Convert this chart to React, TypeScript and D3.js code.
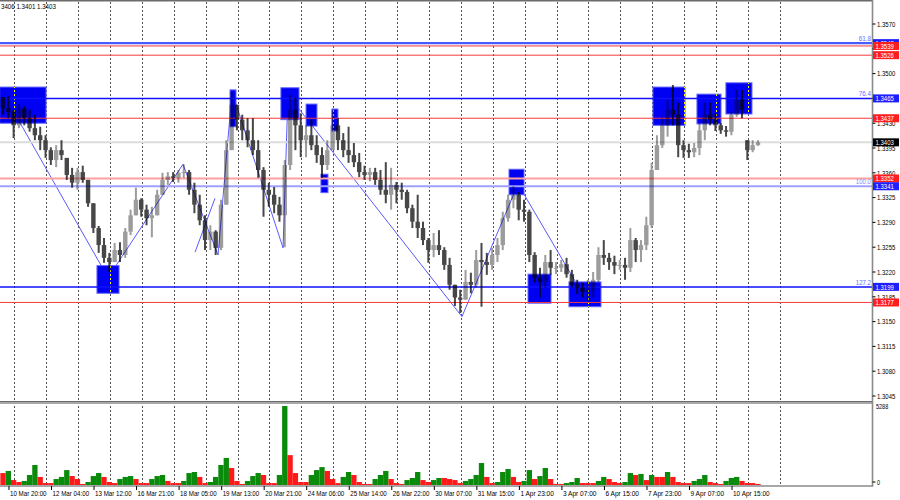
import React from 'react';
import * as d3 from 'd3';

// H1 chart squeezed into 4-bar groups (group g = bars 4g..4g+3)
const highs = [
  1.3467, 1.3468, 1.3449, 1.3457, 1.3454, 1.3449, 1.3442, 1.3425, 1.3413, 1.3396,
  1.3399, 1.3406, 1.3381, 1.3367, 1.3367, 1.3370, 1.3350, 1.3317, 1.3285, 1.3268,
  1.3247, 1.3261, 1.3262, 1.3282, 1.3308, 1.3339, 1.3324, 1.3315, 1.3312, 1.3336,
  1.3360, 1.3361, 1.3361, 1.3364, 1.3372, 1.3364, 1.3346, 1.3329, 1.3300, 1.3286,
  1.3279, 1.3322, 1.3406, 1.3474, 1.3456, 1.3442, 1.3437, 1.3437, 1.3406, 1.3368,
  1.3346, 1.3340, 1.3326, 1.3378, 1.3470, 1.3466, 1.3444, 1.3427, 1.3435, 1.3413,
  1.3396, 1.3406, 1.3449, 1.3437, 1.3416, 1.3425, 1.3402, 1.3388, 1.3370, 1.3367,
  1.3367, 1.3364, 1.3375, 1.3367, 1.3347, 1.3346, 1.3336, 1.3315, 1.3329, 1.3291,
  1.3268, 1.3275, 1.3279, 1.3255, 1.3240, 1.3202, 1.3195, 1.3223, 1.3219, 1.3251,
  1.3261, 1.3247, 1.3254, 1.3268, 1.3305, 1.3329, 1.3341, 1.3333, 1.3322, 1.3308,
  1.3248, 1.3226, 1.3244, 1.3251, 1.3234, 1.3237, 1.3240, 1.3223, 1.3209, 1.3205,
  1.3209, 1.3220, 1.3255, 1.3265, 1.3247, 1.3243, 1.3237, 1.3240, 1.3282, 1.3268,
  1.3265, 1.3298, 1.3374, 1.3413, 1.3437, 1.3463, 1.3484, 1.3459, 1.3406, 1.3401,
  1.3402, 1.3430, 1.3459, 1.3459, 1.3444, 1.3430, 1.3426, 1.3446, 1.3477, 1.3477,
  1.3406, 1.3406, 1.3406,
];
const lows = [
  1.3442, 1.3437, 1.3409, 1.3423, 1.3427, 1.3418, 1.3406, 1.3392, 1.3381, 1.3371,
  1.3368, 1.3378, 1.3350, 1.3339, 1.3336, 1.3346, 1.3312, 1.3275, 1.3247, 1.3233,
  1.3220, 1.3234, 1.3234, 1.3240, 1.3272, 1.3300, 1.3298, 1.3286, 1.3269, 1.3300,
  1.3329, 1.3343, 1.3347, 1.3346, 1.3353, 1.3329, 1.3303, 1.3286, 1.3251, 1.3251,
  1.3244, 1.3251, 1.3315, 1.3392, 1.3420, 1.3406, 1.3396, 1.3385, 1.3353, 1.3298,
  1.3312, 1.3303, 1.3291, 1.3255, 1.3364, 1.3392, 1.3382, 1.3382, 1.3392, 1.3374,
  1.3353, 1.3364, 1.3392, 1.3392, 1.3382, 1.3374, 1.3368, 1.3354, 1.3350, 1.3348,
  1.3343, 1.3329, 1.3317, 1.3308, 1.3317, 1.3322, 1.3303, 1.3282, 1.3268, 1.3258,
  1.3233, 1.3241, 1.3244, 1.3223, 1.3195, 1.3172, 1.3162, 1.3181, 1.3190, 1.3198,
  1.3171, 1.3216, 1.3223, 1.3234, 1.3251, 1.3291, 1.3310, 1.3293, 1.3291, 1.3234,
  1.3205, 1.3184, 1.3198, 1.3216, 1.3217, 1.3220, 1.3212, 1.3198, 1.3189, 1.3184,
  1.3179, 1.3184, 1.3206, 1.3230, 1.3223, 1.3217, 1.3223, 1.3209, 1.3220, 1.3234,
  1.3234, 1.3251, 1.3282, 1.3364, 1.3395, 1.3411, 1.3427, 1.3382, 1.3381, 1.3381,
  1.3382, 1.3385, 1.3406, 1.3427, 1.3419, 1.3415, 1.3411, 1.3413, 1.3439, 1.3437,
  1.3378, 1.3389, 1.3398,
];
const closes = [
  1.3451, 1.3446, 1.3427, 1.3451, 1.3437, 1.3423, 1.3413, 1.3406, 1.3392, 1.3378,
  1.3392, 1.3385, 1.3357, 1.3346, 1.3361, 1.3350, 1.3317, 1.3282, 1.3258, 1.3240,
  1.3234, 1.3251, 1.3244, 1.3277, 1.3300, 1.3322, 1.3308, 1.3296, 1.3300, 1.3329,
  1.3350, 1.3355, 1.3353, 1.3360, 1.3361, 1.3336, 1.3315, 1.3293, 1.3265, 1.3277,
  1.3254, 1.3315, 1.3392, 1.3456, 1.3435, 1.3420, 1.3406, 1.3392, 1.3364, 1.3336,
  1.3329, 1.3315, 1.3300, 1.3371, 1.3449, 1.3427, 1.3406, 1.3413, 1.3399, 1.3385,
  1.3371, 1.3392, 1.3427, 1.3406, 1.3392, 1.3385, 1.3375, 1.3361, 1.3357, 1.3361,
  1.3350, 1.3336, 1.3329, 1.3343, 1.3336, 1.3333, 1.3310, 1.3291, 1.3282, 1.3265,
  1.3251, 1.3258, 1.3251, 1.3230, 1.3202, 1.3184, 1.3181, 1.3206, 1.3202, 1.3237,
  1.3234, 1.3230, 1.3244, 1.3258, 1.3296, 1.3322, 1.3329, 1.3308, 1.3305, 1.3244,
  1.3212, 1.3206, 1.3234, 1.3226, 1.3226, 1.3231, 1.3217, 1.3202, 1.3198, 1.3192,
  1.3195, 1.3209, 1.3244, 1.3240, 1.3234, 1.3229, 1.3230, 1.3226, 1.3265, 1.3251,
  1.3258, 1.3286, 1.3364, 1.3399, 1.3427, 1.3449, 1.3442, 1.3399, 1.3392, 1.3389,
  1.3395, 1.3420, 1.3442, 1.3435, 1.3427, 1.3420, 1.3418, 1.3442, 1.3463, 1.3449,
  1.3392, 1.3399, 1.3403,
];
const volumes = [
  800, 940, 330, 200, 270, 670, 1340, 540, 130, 130,
  400, 540, 1000, 600, 400, 70, 200, 600, 800, 540,
  200, 130, 400, 540, 600, 400, 130, 130, 400, 600,
  670, 270, 130, 130, 270, 800, 870, 540, 130, 200,
  540, 1340, 1810, 1140, 270, 70, 270, 600, 800, 670,
  130, 130, 670, 5288, 2000, 800, 200, 200, 670, 1000,
  1200, 940, 400, 130, 540, 870, 670, 200, 70, 70,
  400, 670, 940, 400, 130, 70, 330, 470, 870, 330,
  200, 330, 470, 470, 400, 330, 130, 270, 400, 670,
  1470, 540, 130, 200, 870, 1070, 540, 200, 270, 1000,
  400, 600, 1140, 400, 70, 70, 130, 200, 470, 130,
  130, 130, 270, 540, 400, 200, 130, 200, 800, 670,
  740, 330, 670, 540, 540, 870, 540, 200, 130, 130,
  270, 400, 670, 200, 130, 70, 270, 470, 540, 270,
  130, 130, 70,
];

const dateLabels = [
  '10 Mar 20:00', '12 Mar 04:00', '13 Mar 12:00', '16 Mar 21:00', '18 Mar 05:00',
  '19 Mar 13:00', '20 Mar 21:00', '24 Mar 06:00', '25 Mar 14:00', '26 Mar 22:00',
  '30 Mar 07:00', '31 Mar 15:00', '1 Apr 23:00', '3 Apr 07:00', '6 Apr 15:00',
  '7 Apr 23:00', '9 Apr 07:00', '10 Apr 15:00',
];
const priceTicks = [
  1.3045, 1.3080, 1.3115, 1.3150, 1.3185, 1.3220, 1.3255, 1.3290,
  1.3325, 1.3360, 1.3395, 1.3430, 1.3465, 1.3500, 1.3535, 1.3570,
];

// horizontal levels
const redLevels = [1.3539, 1.3526, 1.3437, 1.3177];
const fiboLevels = [1.3543, 1.3465, 1.3199];
const fiboNames = ['61.8', '76.4', '127.2'];
const oldRed = 1.3352;
const oldFibo = 1.3341;
const oldFiboName = '100.0';
const lastPrice = 1.3403;
const quoteText = '3406 1.3401 1.3403';

// zigzag (bar index, price)
const zigBars = [3.0, 80.5, 136.9, 163.3, 173.8, 212.2, 215.9, 346.8, 389.0, 440.1];
const zigPrices = [1.3468, 1.3212, 1.3372, 1.3244, 1.3474, 1.3254, 1.3470, 1.3157, 1.3344, 1.3181];
const crossBars = [146.0, 161.0];
const crossPrices = [1.3248, 1.3324];

// blue zones (bar from, bar to, price top, price bottom)
const zoneFrom = [-1, 172.3, 210.6, 229.5, 249.0, 240.7, 382.2, 72.2, 396.5, 427.3, 490.5, 523.6, 545.4];
const zoneTo = [33.9, 176.8, 224.2, 237.7, 253.5, 246.0, 393.5, 88.8, 413.8, 451.4, 514.6, 541.7, 565.0];
const zoneTop = [1.3481, 1.3477, 1.3480, 1.3457, 1.3450, 1.3358, 1.3365, 1.3229, 1.3217, 1.3206, 1.3481, 1.3471, 1.3487];
const zoneBottom = [1.3430, 1.3425, 1.3435, 1.3426, 1.3419, 1.3332, 1.3329, 1.3190, 1.3176, 1.3171, 1.3427, 1.3429, 1.3443];

const AXIS_X = 872.5;
const FONT = '"Liberation Sans", Arial, sans-serif';

const x = d3.scaleLinear().domain([0, 24]).range([1, 32.9]);
const y = d3.scaleLinear().domain([1.3045, 1.357]).range([396, 24]);
const yVol = d3.scaleLinear().domain([0, 5288]).range([485, 406]);
const barW = x(4) - x(0);

const Txt = ({ tx, ty, s, fill = '#000', anchor = 'start' }: any) => (
  <text x={tx} y={ty} fill={fill} fontSize={7.5} fontFamily={FONT}
    textLength={s.length * 3.05} lengthAdjust="spacingAndGlyphs" textAnchor={anchor}>{s}</text>
);

const Tag = ({ p, bg }: { p: number; bg: string }) => (
  <g>
    <rect x={873} y={y(p) - 4} width={26} height={8} fill={bg} />
    <Txt tx={875.5} ty={y(p) + 2.7} s={p.toFixed(4)} fill="#fff" />
  </g>
);

export default function App() {
  const gridBars = d3.range(25).map((k) => 10 + 24 * k);
  const labelBars = dateLabels.map((_, k) => 6 + 32 * k);
  const tagPrices = [...redLevels, ...fiboLevels, oldRed, oldFibo, lastPrice];
  // axis labels fully covered by a price tag are not shown
  const shownTicks = priceTicks.filter((p) => tagPrices.every((t) => Math.abs(y(t) - y(p)) > 4));
  const zones = zoneFrom.map((f, i) => ({
    x0: x(f), x1: x(zoneTo[i]), y0: y(zoneTop[i]), y1: y(zoneBottom[i]),
  }));
  const zig = d3.line<number>().x((b) => x(b)).y((_, i) => y(zigPrices[i]))(zigBars) || '';
  const cross = d3.line<number>().x((b) => x(b)).y((_, i) => y(crossPrices[i]))(crossBars) || '';

  return (
    <svg width={900} height={500} style={{ position: 'absolute', left: 0, top: 0, background: '#fff' }}>
      <defs>
        <clipPath id="plot"><rect x={0} y={2} width={AXIS_X} height={399} /></clipPath>
        <clipPath id="zones">
          {zones.map((z, i) => <rect key={i} x={z.x0} y={z.y0} width={z.x1 - z.x0} height={z.y1 - z.y0} />)}
        </clipPath>
      </defs>

      {/* vertical grid */}
      {gridBars.map((b) => (
        <line key={b} x1={Math.round(x(b)) + 0.5} x2={Math.round(x(b)) + 0.5} y1={2} y2={486}
          stroke="#505050" strokeDasharray="2,2" />
      ))}

      <g clipPath="url(#plot)">
        <path d={zig} fill="none" stroke="#5a5aff" strokeWidth={1} />
        <path d={cross} fill="none" stroke="#5a5aff" strokeWidth={1} />

        {zones.map((z, i) => (
          <rect key={i} x={z.x0} y={z.y0} width={z.x1 - z.x0} height={z.y1 - z.y0}
            fill="#0000f2" stroke="#6262ff" strokeWidth={1} />
        ))}
        <g clipPath="url(#zones)">
          {gridBars.map((b) => (
            <line key={b} x1={Math.round(x(b)) + 0.5} x2={Math.round(x(b)) + 0.5} y1={2} y2={400}
              stroke="#ffff00" strokeDasharray="2,2" />
          ))}
        </g>

        {/* levels */}
        <line x1={0} x2={AXIS_X} y1={y(lastPrice)} y2={y(lastPrice)} stroke="#dcdcdc" strokeWidth={2} />
        <line x1={0} x2={AXIS_X} y1={y(oldRed)} y2={y(oldRed)} stroke="#ffa0a0" strokeWidth={2} />
        <line x1={0} x2={AXIS_X} y1={y(oldFibo)} y2={y(oldFibo)} stroke="#a0a0ff" strokeWidth={2} />
        {fiboLevels.map((p, i) => (
          <line key={p} x1={0} x2={AXIS_X} y1={y(p)} y2={y(p)} stroke={i === 0 ? '#4a5aff' : '#1010ff'}
            strokeWidth={i === 0 ? 2.2 : 1.5} />
        ))}
        {redLevels.map((p) => (
          <line key={p} x1={0} x2={AXIS_X} y1={y(p)} y2={y(p)} stroke="#f23a3a" strokeWidth={1} />
        ))}

        {/* candles */}
        <g style={{ mixBlendMode: 'multiply' }}>
          {closes.map((c, g) => {
            const o = g === 0 ? highs[0] : closes[g - 1];
            const cx = x(g * 4 + 1.5);
            const ob = Math.min(Math.max(o, lows[g]), highs[g]);
            const up = c >= ob;
            const col = up ? '#9c9c9c' : '#474747';
            const top = y(Math.max(ob, c));
            const bot = y(Math.min(ob, c));
            return (
              <g key={g}>
                <line x1={cx} x2={cx} y1={y(highs[g])} y2={y(lows[g])} stroke={col} strokeWidth={2} />
                <rect x={cx - 2.2} y={top} width={4.4} height={Math.max(1, bot - top)} fill={col} />
              </g>
            );
          })}
        </g>
      </g>

      {/* fibo captions */}
      {fiboLevels.map((p, i) => (
        <Txt key={p} tx={871} ty={y(p) - 2} s={fiboNames[i]} fill="#6a6aff" anchor="end" />
      ))}
      <Txt tx={871} ty={y(oldFibo) - 2} s={oldFiboName} fill="#8a8aff" anchor="end" />

      {/* volumes */}
      {volumes.map((v, g) => {
        const cx = x(g * 4 + 1.5);
        const green = g > 0 && v > volumes[g - 1];
        return (
          <rect key={g} x={cx - barW / 2} y={yVol(v)} width={barW} height={yVol(0) - yVol(v)}
            fill={green ? '#0a8a0a' : '#ff1a1a'} />
        );
      })}

      {/* frame */}
      <line x1={0} x2={AXIS_X} y1={0.8} y2={0.8} stroke="#6b6b6b" strokeWidth={1.6} />
      <rect x={0} y={401} width={AXIS_X} height={3} fill="#a8a8a8" />
      <line x1={0} x2={AXIS_X} y1={401.5} y2={401.5} stroke="#6b6b6b" />
      <line x1={0} x2={AXIS_X + 0.8} y1={486} y2={486} stroke="#8a8a8a" strokeWidth={1.6} />
      <line x1={AXIS_X} x2={AXIS_X} y1={0} y2={486} stroke="#8a8a8a" strokeWidth={1.6} />

      {/* price axis */}
      {priceTicks.map((p) => (
        <line key={p} x1={AXIS_X} x2={AXIS_X + 3} y1={y(p)} y2={y(p)} stroke="#000" />
      ))}
      {shownTicks.map((p) => (
        <Txt key={p} tx={877} ty={y(p) + 2.7} s={p.toFixed(4)} />
      ))}
      <Tag p={fiboLevels[0]} bg="#1e1eff" />
      <Tag p={redLevels[0]} bg="#ff1e1e" />
      <Tag p={redLevels[1]} bg="#ff1e1e" />
      <Tag p={fiboLevels[1]} bg="#1e1eff" />
      <Tag p={redLevels[2]} bg="#ff1e1e" />
      <Tag p={lastPrice} bg="#000" />
      <Tag p={oldRed} bg="#ff1e1e" />
      <Tag p={oldFibo} bg="#1e1eff" />
      <Tag p={fiboLevels[2]} bg="#1e1eff" />
      <Tag p={redLevels[3]} bg="#ff1e1e" />

      {/* volume axis */}
      <Txt tx={876} ty={yVol(5288) + 3} s="5288" />
      <line x1={AXIS_X} x2={AXIS_X + 3} y1={yVol(0) - 3} y2={yVol(0) - 3} stroke="#000" />
      <Txt tx={877} ty={yVol(0)} s="0" />

      {/* time axis */}
      {labelBars.map((b, k) => (
        <g key={b}>
          <line x1={x(b)} x2={x(b)} y1={486} y2={490} stroke="#000" />
          <Txt tx={x(b) + 1} ty={496} s={dateLabels[k]} />
        </g>
      ))}

      <Txt tx={1} ty={9} s={quoteText} />
    </svg>
  );
}
